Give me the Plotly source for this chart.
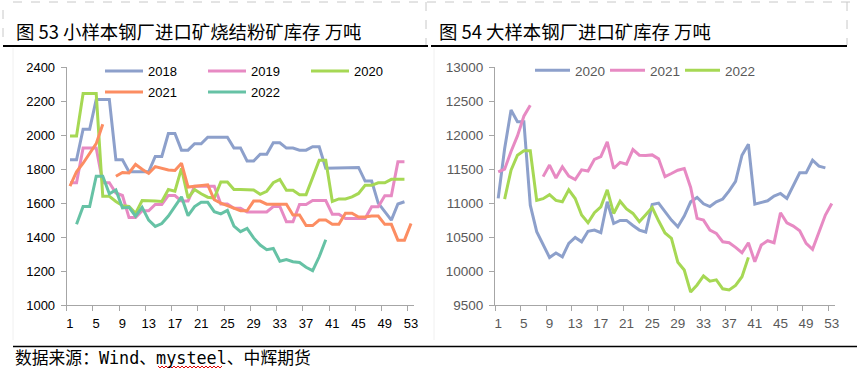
import plotly.graph_objects as go

W, H = 857, 376

# ---------------- data ----------------
weeks_53 = list(range(1, 54))

left_2018 = [1855, 1855, 2035, 2035, 2210, 2210, 2210, 1855, 1855, 1785,
             1785, 1785, 1785, 1875, 1875, 2010, 2010, 1912, 1912, 1950,
             1950, 1988, 1988, 1988, 1988, 1925, 1925, 1848, 1848, 1888,
             1888, 1955, 1955, 1924, 1924, 1912, 1912, 1932, 1932, 1806,
             1806, 1806, 1806, 1806, 1810, 1730, 1730, 1600, 1550, 1500,
             1595, 1608]
left_2019 = [1720, 1720, 1925, 1925, 1925, 1720, 1720, 1660, 1645, 1515,
             1515, 1555, 1555, 1592, 1592, 1645, 1645, 1612, 1612, 1700,
             1700, 1700, 1700, 1595, 1595, 1570, 1570, 1548, 1548, 1548,
             1548, 1580, 1580, 1490, 1490, 1592, 1592, 1615, 1615, 1615,
             1535, 1535, 1510, 1510, 1510, 1510, 1578, 1578, 1643, 1643,
             1843, 1843]
left_2020 = [1995, 1995, 2245, 2245, 2245, 1640, 1640, 1610, 1585, 1580,
             1540, 1615, 1615, 1612, 1610, 1680, 1670, 1805, 1630, 1680,
             1655, 1635, 1630, 1725, 1725, 1680, 1680, 1680, 1678, 1652,
             1670, 1720, 1740, 1676, 1676, 1650, 1650, 1750, 1852, 1852,
             1610, 1625, 1625, 1637, 1657, 1705, 1705, 1720, 1720, 1740,
             1740, 1740]
left_2021 = [1700, 1785, 1835, 1895, 1950, 2065, None, 1758, 1780, 1778,
             1828, 1800, 1775, 1815, 1805, 1795, 1792, 1835, 1695, 1700,
             1705, 1708, 1620, 1600, 1585, 1570, 1555, 1555, 1612, 1612,
             1594, 1594, 1594, 1594, 1530, 1530, 1468, 1468, 1500, 1500,
             1475, 1475, 1540, 1540, 1518, 1518, 1524, 1524, 1475, 1475,
             1382, 1382, 1480]
left_2022 = [None, 1475, 1580, 1580, 1758, 1758, 1655, 1678, 1572, 1575,
             1523, 1575, 1500, 1463, 1480, 1524, 1580, 1637, 1526, 1580,
             1605, 1605, 1550, 1537, 1557, 1465, 1432, 1451, 1395, 1353,
             1326, 1333, 1258, 1268, 1255, 1250, 1222, 1202, 1284, 1384]

right_2020 = [11070, 11800, 12370, 12200, 12200, 10970, 10580, 10400, 10200, 10265,
              10210, 10407, 10495, 10431, 10585, 10603, 10564, 11020, 10700, 10745,
              10745, 10670, 10603, 10575, 10980, 11000, 10868, 10750, 10652, 10810,
              11020, 11083, 10990, 10950, 11019, 11060, 11180, 11320, 11705, 11867,
              10985, 11005, 11034, 11103, 11142, 11068, 11250, 11446, 11446, 11632,
              11544, 11519]
right_2021 = [11460, 11500, 11760, 11990, 12280, 12440, None, 11390, 11560, 11370,
              11534, 11397, 11348, 11490, 11472, 11645, 11685, 11902, 11510, 11600,
              11573, 11789, 11706, 11700, 11710, 11652, 11390, 11436, 11485, 11510,
              11230, 10775, 10750, 10603, 10554, 10431, 10417, 10348, 10270, 10417,
              10137, 10382, 10446, 10417, 10858, 10711, 10662, 10593, 10407, 10319,
              10578, 10824, 10995]
right_2022 = [None, 11060, 11485, 11706, 11770, 11770, 11040, 11065, 11125, 11040,
              11020, 11195, 11068, 10824, 10711, 10858, 10946, 11195, 10848, 11027,
              10915, 10848, 10726, 10830, 10936, 10740, 10560, 10480, 10130, 10015,
              9690, 9795, 9927, 9850, 9870, 9738, 9721, 9788, 9917, 10201]

x_tick_labels = [str(v) for v in range(1, 54, 4)]
left_title = "图 53 小样本钢厂进口矿烧结粉矿库存 万吨"
right_title = "图 54 大样本钢厂进口矿库存 万吨"
source_text = "数据来源：Wind、mysteel、中辉期货"

C_BLUE, C_PINK, C_GREEN, C_ORANGE, C_TEAL = "#8DA0CB", "#E78AC3", "#A6D854", "#FC8D62", "#66C2A5"

# ---------------- helpers ----------------
def px(x):
    return x / W

def py(y):
    return 1 - y / H

fig = go.Figure()

def add(name, ys, color, xa, ya, legend):
    fig.add_trace(go.Scatter(
        x=weeks_53[:len(ys)], y=ys, name=name, mode="lines",
        line=dict(color=color, width=3), xaxis=xa, yaxis=ya, legend=legend,
        connectgaps=False, hoverinfo="skip"))

add("2018", left_2018, C_BLUE, "x", "y", "legend")
add("2019", left_2019, C_PINK, "x", "y", "legend")
add("2020", left_2020, C_GREEN, "x", "y", "legend")
add("2021", left_2021, C_ORANGE, "x", "y", "legend2")
add("2022", left_2022, C_TEAL, "x", "y", "legend2")
add("2020", right_2020, C_BLUE, "x2", "y2", "legend3")
add("2021", right_2021, C_PINK, "x2", "y2", "legend3")
add("2022", right_2022, C_GREEN, "x2", "y2", "legend3")

AX = "#A6A6A6"
FONT = "Liberation Sans, Arial, sans-serif"
CJK = "Noto Sans CJK SC, sans-serif"

def xaxis(dom, color, size):
    return dict(domain=dom, range=[0.5, 53.5], tickmode="array",
                tickvals=list(range(1, 54, 4)), ticktext=x_tick_labels,
                ticks="outside", ticklen=6, tickcolor="rgba(0,0,0,0)",
                showline=True, linecolor=AX, linewidth=1, showgrid=False, zeroline=False,
                minor=dict(tick0=0.5, dtick=4, ticks="outside", ticklen=5,
                           tickcolor=AX, tickwidth=1, showgrid=False),
                tickfont=dict(family=FONT, size=size, color=color), fixedrange=True,
                automargin=False)

def yaxis(rng, dt, anchor, color, size):
    return dict(domain=[py(305), py(67.3)], range=rng, dtick=dt, tick0=rng[0],
                tickformat="d",
                ticks="outside", ticklen=5, tickcolor=AX, showline=True, linecolor=AX,
                linewidth=1, showgrid=False, zeroline=False, anchor=anchor,
                ticklabelstandoff=3, automargin=False,
                tickfont=dict(family=FONT, size=size, color=color), fixedrange=True)

shapes = []
# header rules
shapes.append(dict(type="line", xref="paper", yref="paper", x0=px(3), x1=px(428),
                   y0=py(46), y1=py(46), line=dict(color="black", width=2)))
shapes.append(dict(type="line", xref="paper", yref="paper", x0=px(431), x1=px(847),
                   y0=py(46), y1=py(46), line=dict(color="black", width=2)))
# dashed cell borders
for (x0, y0, x1, y1) in [(13, 2, 857, 2), (3, 10, 3, 45), (426, 2, 426, 45), (847, 2, 847, 45)]:
    shapes.append(dict(type="line", xref="paper", yref="paper", x0=px(x0), x1=px(x1),
                       y0=py(y0), y1=py(y1), line=dict(color="#C8C8C8", width=1, dash="dash")))
# faint separators
for xx in (13, 434):
    shapes.append(dict(type="line", xref="paper", yref="paper", x0=px(xx), x1=px(xx),
                       y0=py(48), y1=py(340), line=dict(color="#F0F0F0", width=1)))
# bottom rule
shapes.append(dict(type="line", xref="paper", yref="paper", x0=px(13), x1=px(857),
                   y0=py(346.5), y1=py(346.5), line=dict(color="black", width=1.5)))
# red wavy spell-check underline under "mysteel"
pts = []
xw = 158.0
k = 0
while xw <= 223:
    yy = 366 if k % 2 == 0 else 368
    pts.append(f"{px(xw):.5f},{py(yy):.5f}")
    xw += 2
    k += 1
shapes.append(dict(type="path", xref="paper", yref="paper",
                   path="M" + " L".join(pts), line=dict(color="#E00000", width=1)))

annotations = [
    dict(text=left_title, x=px(14), y=py(31), xref="paper", yref="paper",
         xanchor="left", yanchor="middle", showarrow=False,
         font=dict(family=CJK, size=18.4, color="black")),
    dict(text=right_title, x=px(437), y=py(31), xref="paper", yref="paper",
         xanchor="left", yanchor="middle", showarrow=False,
         font=dict(family=CJK, size=18.4, color="black")),
    dict(text=source_text, x=px(13), y=py(358), xref="paper", yref="paper",
         xanchor="left", yanchor="middle", showarrow=False,
         font=dict(family="DejaVu Sans Mono, Noto Sans CJK SC, monospace", size=16.8, color="black")),
]

def legend(x, y, color, size, iw, ew):
    return dict(orientation="h", x=x, y=y, xanchor="left", yanchor="middle",
                bgcolor="rgba(0,0,0,0)", itemwidth=iw, entrywidth=ew, entrywidthmode="pixels",
                font=dict(family=FONT, size=size, color=color), itemclick=False,
                itemdoubleclick=False, tracegroupgap=0)

fig.update_layout(
    width=W, height=H, margin=dict(l=0, r=0, t=0, b=0, autoexpand=False),
    paper_bgcolor="white", plot_bgcolor="white",
    xaxis=xaxis([px(66.7), px(414.3)], "black", 13),
    yaxis=yaxis([1000, 2400], 200, "x", "black", 13),
    xaxis2=xaxis([px(495), px(835)], "#595959", 13.5),
    yaxis2=yaxis([9500, 13000], 500, "x2", "#595959", 13.5),
    legend=legend(px(100), py(71), "black", 13, 38, 50),
    legend2=legend(px(100), py(92), "black", 13, 38, 50),
    legend3=legend(px(530), py(70.5), "#595959", 13.5, 35, 25),
    shapes=shapes, annotations=annotations, showlegend=True,
)

fig.write_html(
    "out.html",
    config={"displayModeBar": False},
    post_script="document.body.style.margin='0';document.body.style.padding='0';",
)
